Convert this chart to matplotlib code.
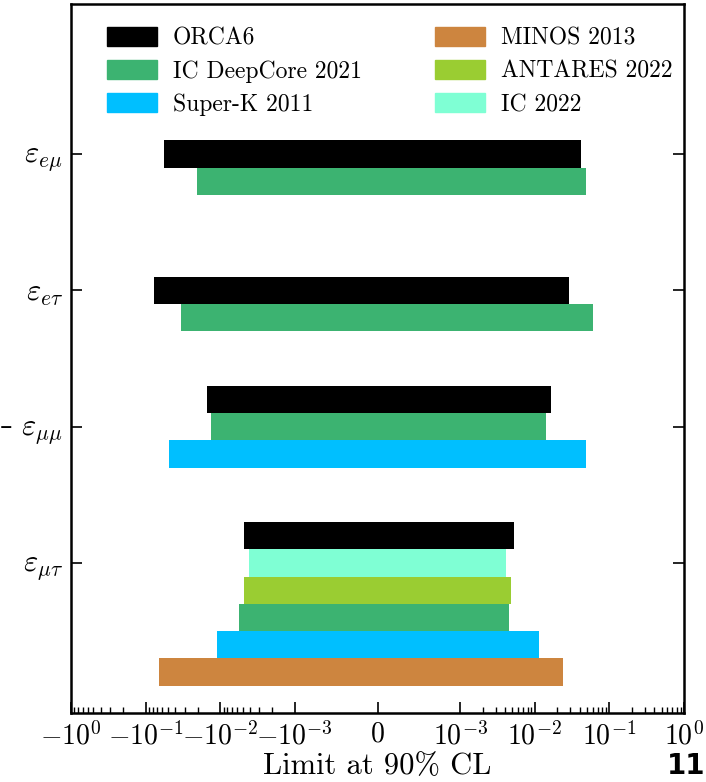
import numpy as np
import matplotlib
matplotlib.use("Agg")
import matplotlib.pyplot as plt
import matplotlib.patches as mpatches
from matplotlib.ticker import SymmetricalLogLocator

plt.rcParams['font.family'] = 'serif'
plt.rcParams['font.serif'] = ['cmr10']
plt.rcParams['mathtext.fontset'] = 'cm'
plt.rcParams['axes.formatter.use_mathtext'] = True

# NSI parameters (y categories, top to bottom)
params = [r'$\varepsilon_{e\mu}$', r'$\varepsilon_{e\tau}$',
          r'$\varepsilon_{\mu\mu}$', r'$\varepsilon_{\mu\tau}$']

# experiments, in legend order
experiments = ['ORCA6', 'IC DeepCore 2021', 'Super-K 2011',
               'MINOS 2013', 'ANTARES 2022', 'IC 2022']
colors = ['black', '#3cb371', '#00bfff', '#cd853f', '#9acd32', '#7fffd4']

# order in which bars are stacked inside one parameter group
stack_order = ['ORCA6', 'IC 2022', 'ANTARES 2022', 'IC DeepCore 2021',
               'Super-K 2011', 'MINOS 2013']
# which bar of the group sits on the tick
anchor = [0, 0, 1, 1]

# 90% CL limits (lower, upper), nan = no limit shown
orca6_lo = [-0.0566, -0.077, -0.015, -0.00474]
orca6_hi = [0.0416, 0.0284, 0.0164, 0.0052]
icdc_lo = [-0.0206, -0.0332, -0.0132, -0.0055]
icdc_hi = [0.0485, 0.0597, 0.0141, 0.0045]
sk_lo = [np.nan, np.nan, -0.048, -0.011]
sk_hi = [np.nan, np.nan, 0.0485, 0.0112]
minos_lo = [np.nan, np.nan, np.nan, -0.066]
minos_hi = [np.nan, np.nan, np.nan, 0.0236]
antares_lo = [np.nan, np.nan, np.nan, -0.00474]
antares_hi = [np.nan, np.nan, np.nan, 0.0048]
ic22_lo = [np.nan, np.nan, np.nan, -0.0041]
ic22_hi = [np.nan, np.nan, np.nan, 0.0041]

limits = {
    'ORCA6': (orca6_lo, orca6_hi),
    'IC DeepCore 2021': (icdc_lo, icdc_hi),
    'Super-K 2011': (sk_lo, sk_hi),
    'MINOS 2013': (minos_lo, minos_hi),
    'ANTARES 2022': (antares_lo, antares_hi),
    'IC 2022': (ic22_lo, ic22_hi),
}
color_of = dict(zip(experiments, colors))

bar_h = 0.2

fig = plt.figure(figsize=(7.06, 7.82), dpi=100)
ax = fig.add_axes([71/706, 1-713/782, 613/706, 709/782])

for c in range(len(params)):
    k = 0
    for name in stack_order:
        lo, hi = limits[name]
        if np.isnan(lo[c]):
            continue
        y = c + (k - anchor[c]) * bar_h
        ax.barh(y, hi[c] - lo[c], left=lo[c], height=bar_h,
                color=color_of[name], edgecolor='none')
        k += 1

ax.set_xscale('symlog', linthresh=1e-3)
ax.xaxis.set_minor_locator(SymmetricalLogLocator(base=10, linthresh=1e-3,
                                                 subs=np.arange(2, 10)))
ax.set_xlim(-1, 1)
ax.set_xticks([-1, -1e-1, -1e-2, -1e-3, 0, 1e-3, 1e-2, 1e-1, 1])
ax.set_ylim(4.1, -1.1)
ax.set_yticks(range(len(params)))
ax.set_yticklabels(params, fontsize=22)
ax.tick_params(axis='x', which='major', direction='in', length=8, width=1.2,
               labelsize=20, pad=6)
ax.tick_params(axis='x', which='minor', direction='in', length=4, width=1)
ax.tick_params(axis='y', which='major', direction='in', length=8, width=1.2,
               right=True, pad=6)
for s in ax.spines.values():
    s.set_linewidth(1.8)

ax.set_xlabel('Limit at 90% CL', fontsize=22, labelpad=2)

handles = [mpatches.Patch(color=color_of[n], label=n) for n in experiments]
ax.legend(handles=handles, ncol=2, loc='upper left',
          bbox_to_anchor=((107 - 71) / 613, (713 - 27) / 709),
          frameon=False, fontsize=17, handlelength=2.1, handleheight=0.85,
          handletextpad=0.7, columnspacing=3.1, labelspacing=0.45,
          borderpad=0, borderaxespad=0)

fig.text(0.0, 1-427/782, '\u2013', fontsize=18, va='center', ha='left',
         family=['DejaVu Sans'])
fig.text(0.999, 0.002, '11', fontsize=20, fontweight='bold',
         family=['DejaVu Sans'], ha='right', va='bottom')

fig.savefig('out.png', dpi=100)
